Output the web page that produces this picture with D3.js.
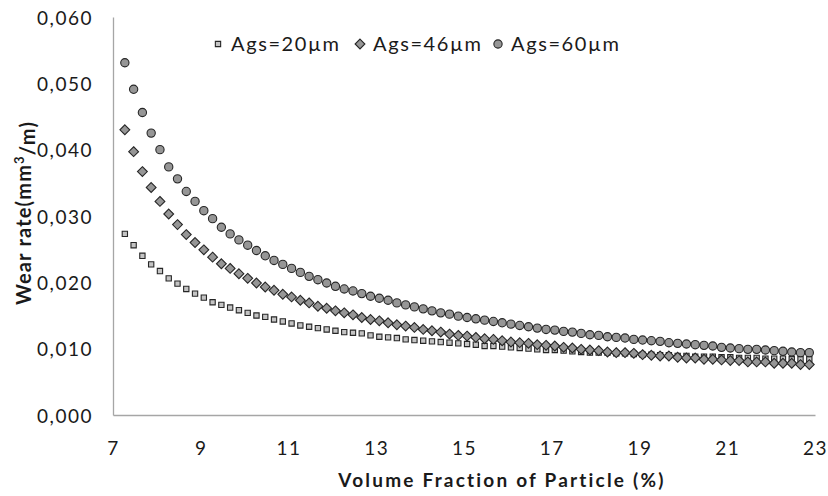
<!DOCTYPE html>
<html>
<head>
<meta charset="utf-8">
<script src="https://cdn.jsdelivr.net/npm/d3@7"></script>
<style>
  html, body { margin: 0; padding: 0; background: #fff; }
  svg { display: block; }
  text { font-family: Lato, "Open Sans", sans-serif; fill: #1a1a1a; }
</style>
</head>
<body>
<svg id="chart" width="828" height="496"></svg>
<script>
// Volume fraction of particle (%)
const xValues = [7.27,7.47,7.67,7.87,8.07,8.27,8.47,8.67,8.87,9.07,
  9.27,9.47,9.67,9.87,10.07,10.27,10.47,10.67,10.87,11.07,
  11.27,11.47,11.67,11.87,12.07,12.27,12.47,12.67,12.87,13.07,
  13.27,13.47,13.67,13.87,14.07,14.27,14.47,14.67,14.87,15.07,
  15.27,15.47,15.67,15.87,16.07,16.27,16.47,16.67,16.87,17.07,
  17.27,17.47,17.67,17.87,18.07,18.27,18.47,18.67,18.87,19.07,
  19.27,19.47,19.67,19.87,20.07,20.27,20.47,20.67,20.87,21.07,
  21.27,21.47,21.67,21.87,22.07,22.27,22.47,22.67,22.87];

// Wear rate (mm^3/m), abrasive grain size 20 µm
const wear20 = [0.0273,0.0256,0.0240,0.0227,0.0217,0.0206,0.0198,0.0190,0.0183,0.0177,
  0.0170,0.0166,0.0162,0.0158,0.0154,0.0150,0.0148,0.0144,0.0141,0.0138,
  0.0135,0.0133,0.0131,0.0129,0.0127,0.0125,0.0124,0.0123,0.0120,0.0118,
  0.0117,0.0116,0.0114,0.0113,0.0112,0.0111,0.0110,0.0109,0.0108,0.0107,
  0.0106,0.0104,0.0104,0.0103,0.0102,0.0101,0.0100,0.0099,0.0098,0.0098,
  0.0097,0.0096,0.0095,0.0094,0.0094,0.0094,0.0093,0.0093,0.0092,0.0091,
  0.0091,0.0090,0.0090,0.0089,0.0089,0.0088,0.0088,0.0088,0.0087,0.0087,
  0.0086,0.0086,0.0086,0.0085,0.0085,0.0085,0.0084,0.0084,0.0084];

// Wear rate (mm^3/m), abrasive grain size 46 µm
const wear46 = [0.0430,0.0397,0.0367,0.0343,0.0322,0.0303,0.0287,0.0272,0.0260,0.0249,
  0.0238,0.0228,0.0221,0.0213,0.0206,0.0199,0.0193,0.0188,0.0182,0.0178,
  0.0173,0.0169,0.0164,0.0161,0.0157,0.0154,0.0151,0.0147,0.0144,0.0142,
  0.0139,0.0136,0.0134,0.0132,0.0129,0.0127,0.0125,0.0122,0.0120,0.0119,
  0.0117,0.0115,0.0114,0.0112,0.0110,0.0109,0.0108,0.0106,0.0105,0.0104,
  0.0102,0.0101,0.0099,0.0098,0.0097,0.0095,0.0094,0.0094,0.0093,0.0091,
  0.0090,0.0089,0.0089,0.0087,0.0086,0.0086,0.0084,0.0084,0.0083,0.0082,
  0.0082,0.0080,0.0080,0.0080,0.0078,0.0078,0.0078,0.0076,0.0076];

// Wear rate (mm^3/m), abrasive grain size 60 µm
const wear60 = [0.0531,0.0491,0.0456,0.0425,0.0400,0.0374,0.0356,0.0337,0.0322,0.0308,
  0.0296,0.0283,0.0273,0.0264,0.0256,0.0248,0.0240,0.0233,0.0227,0.0221,
  0.0215,0.0209,0.0204,0.0199,0.0194,0.0190,0.0187,0.0183,0.0179,0.0176,
  0.0173,0.0169,0.0166,0.0163,0.0160,0.0157,0.0154,0.0152,0.0149,0.0147,
  0.0145,0.0143,0.0141,0.0139,0.0137,0.0135,0.0133,0.0131,0.0129,0.0128,
  0.0126,0.0125,0.0123,0.0121,0.0120,0.0118,0.0117,0.0116,0.0114,0.0113,
  0.0112,0.0111,0.0109,0.0108,0.0107,0.0106,0.0105,0.0104,0.0102,0.0101,
  0.0100,0.0099,0.0099,0.0098,0.0097,0.0096,0.0095,0.0094,0.0094];

const seriesNames = ["Ags=20µm", "Ags=46µm", "Ags=60µm"];
const seriesShapes = ["square", "diamond", "circle"];
const xTicks = [7, 9, 11, 13, 15, 17, 19, 21, 23];
const yTicks = [0, 0.01, 0.02, 0.03, 0.04, 0.05, 0.06];

const series = [
  { name: seriesNames[0], shape: seriesShapes[0], values: wear20 },
  { name: seriesNames[1], shape: seriesShapes[1], values: wear46 },
  { name: seriesNames[2], shape: seriesShapes[2], values: wear60 }
];

const svg = d3.select("#chart");
const plotLeft = 113, plotRight = 815, plotTop = 17, plotBottom = 415;

const x = d3.scaleLinear().domain([7, 23]).range([plotLeft, plotRight]);
const y = d3.scaleLinear().domain([0, 0.06]).range([plotBottom, plotTop]);

const fmt = v => d3.format(".3f")(v).replace(".", ",");

// axes (no tick marks, grey domain line)
const xAxis = svg.append("g")
  .attr("transform", `translate(0,${plotBottom})`)
  .call(d3.axisBottom(x).tickValues(xTicks).tickSize(0).tickPadding(27).tickFormat(d3.format("d")));
const yAxis = svg.append("g")
  .attr("transform", `translate(${plotLeft},0)`)
  .call(d3.axisLeft(y).tickValues(yTicks).tickSize(0).tickPadding(20).tickFormat(fmt));

[xAxis, yAxis].forEach(g => {
  g.select(".domain").attr("stroke", "#a6a6a6").attr("stroke-width", 1.3);
  g.selectAll("text")
    .style("font-family", "Lato, 'Open Sans', sans-serif")
    .style("font-size", "19px")
    .style("letter-spacing", "1.5px")
    .attr("fill", "#1a1a1a");
});
yAxis.selectAll("text").attr("dy", "0.38em");

// marker symbols: small square, 45°-rotated square (diamond), circle
const diamondSymbol = {
  draw(ctx, size) {
    const r = Math.sqrt(size / 2);
    ctx.moveTo(0, -r); ctx.lineTo(r, 0); ctx.lineTo(0, r); ctx.lineTo(-r, 0); ctx.closePath();
  }
};
const shapeGen = {
  square: d3.symbol(d3.symbolSquare, 28),
  diamond: d3.symbol(diamondSymbol, 48),
  circle: d3.symbol(d3.symbolCircle, 54)
};
const shapeFill = { square: "#c4c4c4", diamond: "#969696", circle: "#969696" };

const plot = svg.append("g");
series.forEach(s => {
  plot.append("g")
    .selectAll("path")
    .data(s.values.map((v, i) => [xValues[i], v]))
    .join("path")
    .attr("transform", d => `translate(${x(d[0])},${y(d[1])})`)
    .attr("d", shapeGen[s.shape]())
    .attr("fill", shapeFill[s.shape])
    .attr("stroke", "#262626")
    .attr("stroke-width", 1.1);
});

// legend
const legendX = [218, 360, 498];
const legend = svg.append("g");
series.forEach((s, i) => {
  legend.append("path")
    .attr("transform", `translate(${legendX[i]},44)`)
    .attr("d", shapeGen[s.shape]())
    .attr("fill", shapeFill[s.shape])
    .attr("stroke", "#262626")
    .attr("stroke-width", 1.1);
  legend.append("text")
    .attr("x", legendX[i] + 13)
    .attr("y", 51)
    .style("font-size", "20px")
    .style("letter-spacing", "1.6px")
    .text(s.name);
});

// axis titles
svg.append("text")
  .attr("x", 502)
  .attr("y", 487)
  .attr("text-anchor", "middle")
  .style("font-size", "19px")
  .style("font-weight", "bold")
  .style("letter-spacing", "2.2px")
  .text("Volume Fraction of Particle (%)");

const yTitle = svg.append("text")
  .attr("transform", "translate(31,213) rotate(-90)")
  .attr("text-anchor", "middle")
  .style("font-size", "20px")
  .style("font-weight", "bold")
  .style("letter-spacing", "1.2px");
yTitle.append("tspan").text("Wear rate(mm");
yTitle.append("tspan").attr("dy", "-0.55em").style("font-size", "13px").text("3");
yTitle.append("tspan").attr("dy", "0.55em").text("/m)");
</script>
</body>
</html>
